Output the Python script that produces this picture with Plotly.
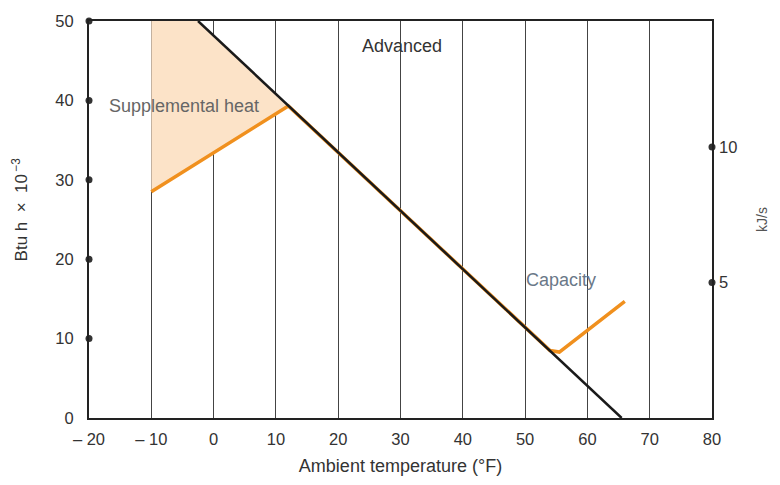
import plotly.graph_objects as go

# ---- data ----
x_ticks = [-20, -10, 0, 10, 20, 30, 40, 50, 60, 70, 80]
x_tick_labels = ["\u2013 20", "\u2013 10", "0", "10", "20", "30", "40", "50", "60", "70", "80"]
y_ticks = [0, 10, 20, 30, 40, 50]
kjs_ticks = [5, 10]
BTU_PER_KJS = 3.412  # 1 kJ/s = 3.412 x 10^3 Btu/h

advanced_temp = [-2.5, 65.5]
advanced_btu = [50, 0]

capacity_temp = [-10, 12, 54, 55.5, 66]
capacity_btu = [28.5, 39.3, 8.5, 8.3, 14.7]

supp_temp = [-10, -2.5, 12, -10]
supp_btu = [50, 50, 39.3, 28.5]

FONT = "Liberation Sans, Arial, sans-serif"
ORANGE = "#f0901e"
FILL = "#fce3c8"

fig = go.Figure()

# supplemental heat shading
fig.add_trace(go.Scatter(x=supp_temp, y=supp_btu, fill="toself", fillcolor=FILL,
                         line=dict(width=0), mode="lines", hoverinfo="skip", showlegend=False))
# capacity (orange)
fig.add_trace(go.Scatter(x=capacity_temp, y=capacity_btu, mode="lines",
                         line=dict(color=ORANGE, width=3.5), showlegend=False))
# advanced (black)
fig.add_trace(go.Scatter(x=advanced_temp, y=advanced_btu, mode="lines",
                         line=dict(color="#1a1a1a", width=2.5), showlegend=False))
# left axis dots
fig.add_trace(go.Scatter(x=[x_ticks[0]] * 5, y=y_ticks[1:], mode="markers",
                         marker=dict(color="#333", size=7), cliponaxis=False, showlegend=False))
# right axis dots
fig.add_trace(go.Scatter(x=[x_ticks[-1]] * len(kjs_ticks), y=kjs_ticks, yaxis="y2", mode="markers",
                         marker=dict(color="#333", size=7), cliponaxis=False, showlegend=False))

fig.add_annotation(x=30.2, y=46.9, text="Advanced", showarrow=False,
                   font=dict(family=FONT, size=18, color="#333"))
fig.add_annotation(x=-4.8, y=39.3, text="Supplemental heat", showarrow=False,
                   font=dict(family=FONT, size=18, color="#666"))
fig.add_annotation(x=55.7, y=17.4, text="Capacity", showarrow=False,
                   font=dict(family=FONT, size=18, color="#6a7888"))
# left axis title
fig.add_annotation(xref="paper", yref="paper", x=-0.111, y=0.525, textangle=-90,
                   xanchor="center", yanchor="middle",
                   text="Btu h\u00a0\u00a0\u00d7\u00a0\u00a010<sup>\u2009\u22123</sup>",
                   showarrow=False, font=dict(family=FONT, size=17, color="#333"))

fig.update_layout(
    width=780, height=485,
    margin=dict(l=89, r=68, t=16, b=67),
    paper_bgcolor="white", plot_bgcolor="white",
    font=dict(family=FONT, size=16, color="#333"),
    xaxis=dict(range=[-20, 80], tickvals=x_ticks, ticktext=x_tick_labels,
               showgrid=True, gridcolor="#444", gridwidth=1, zeroline=False,
               showline=True, linecolor="#222", linewidth=2, mirror=True,
               ticks="", ticklabelstandoff=5, tickfont=dict(size=16.5),
               title=dict(text="Ambient temperature (\u00b0F)", standoff=13,
                          font=dict(size=18))),
    yaxis=dict(range=[0, 50], tickvals=y_ticks, showgrid=False, zeroline=False,
               showline=True, linecolor="#222", linewidth=2, mirror=True,
               ticks="", ticklabelstandoff=10, tickfont=dict(size=16.5)),
    yaxis2=dict(range=[0, 50 / BTU_PER_KJS], overlaying="y", side="right",
                tickvals=kjs_ticks, showgrid=False, zeroline=False, showline=False,
                ticks="", ticklabelstandoff=6, tickfont=dict(size=16.5),
                title=dict(text="kJ/s", standoff=20, font=dict(size=14, color="#555"))),
)

fig.write_html("out.html")
